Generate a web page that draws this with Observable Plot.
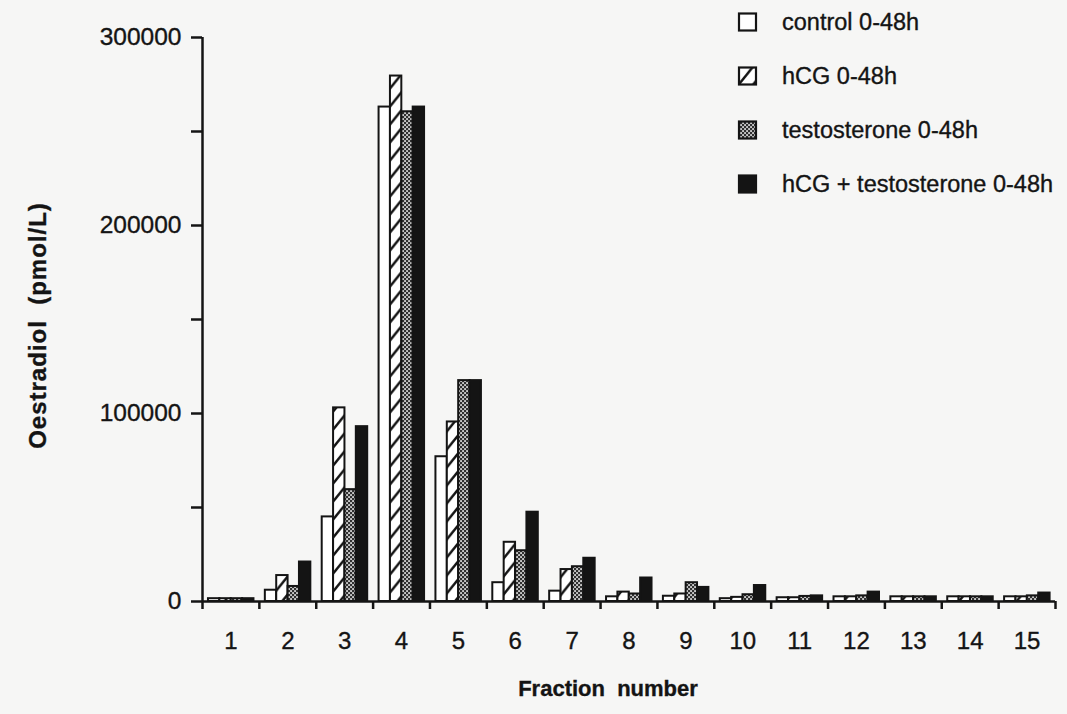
<!DOCTYPE html>
<html>
<head>
<meta charset="utf-8">
<script src="https://cdn.jsdelivr.net/npm/d3@7"></script>
<script src="https://cdn.jsdelivr.net/npm/@observablehq/plot@0.6"></script>
<style>
  html, body { margin: 0; padding: 0; background: #f6f6f5; }
  #chart { position: relative; width: 1067px; height: 714px; }
  #chart svg { display: block; }
  #chart svg text { stroke: #141414; stroke-width: 0.35px; }
</style>
</head>
<body>
<div id="chart"></div>
<script>
// Oestradiol (pmol/L) per HPLC fraction, four culture conditions (0-48h)
const fractions = [1, 2, 3, 4, 5, 6, 7, 8, 9, 10, 11, 12, 13, 14, 15];
const seriesNames = ["control 0-48h", "hCG 0-48h", "testosterone 0-48h", "hCG + testosterone 0-48h"];

const control         = [1500, 6000,  45000, 263000,  77000, 10000,  5500,  2500,  2800, 1500, 2000, 2500, 2500, 2500, 2500];
const hCG             = [1500, 13800, 103000, 279500, 95500, 31500, 17000,  5000,  4000, 2200, 2000, 2500, 2500, 2500, 2500];
const testosterone    = [1500, 8000,  59500, 260500, 117500, 27000, 18500,  4000, 10000, 3600, 2700, 3000, 2500, 2500, 3000];
const hCGTestosterone = [1500, 21000, 93000, 263000, 117500, 47500, 23000, 12500,  7500, 8500, 3000, 5000, 2500, 2500, 4500];

const majorTicks = [0, 100000, 200000, 300000];
const minorTicks = [50000, 150000, 250000];

// fills per series: open, hatched, stippled, solid
const fills = ["white", "url(#hatchFill)", "url(#stippleFill)", "#141414"];

const seriesValues = [control, hCG, testosterone, hCGTestosterone];
const rows = seriesNames.flatMap((name, k) =>
  fractions.map((f, i) => ({fraction: f, series: name, k, value: seriesValues[k][i]}))
);

// each fraction occupies one unit; four bars sit side by side within it
const groupInset = 0.105, barWidth = 0.2;
const boundaries = d3.range(0.5, fractions.length + 1, 1);

const ink = "#141414";
const font = "'Liberation Sans', Arial, Helvetica, sans-serif";

const chart = Plot.plot({
  width: 1067,
  height: 714,
  marginLeft: 202,
  marginRight: 12,
  marginTop: 37,
  marginBottom: 113,
  style: {background: "transparent", fontFamily: font, fontSize: "24px", color: ink},
  x: {type: "linear", domain: [0.5, 15.5], axis: null},
  y: {domain: [0, 300000], axis: null},
  color: {type: "ordinal", domain: seriesNames, range: fills},
  marks: [
    Plot.rect(rows, {
      x1: d => d.fraction - 0.5 + groupInset + d.k * barWidth,
      x2: d => d.fraction - 0.5 + groupInset + (d.k + 1) * barWidth,
      y1: 0,
      y2: "value",
      fill: "series",
      stroke: ink,
      strokeWidth: 2
    }),
    Plot.ruleX([0.5], {stroke: ink, strokeWidth: 2.5}),
    Plot.ruleY([0], {stroke: ink, strokeWidth: 2.5}),
    Plot.axisY({
      ticks: [...majorTicks, ...minorTicks],
      tickSize: 11,
      tickPadding: 10,
      tickFormat: d => majorTicks.includes(d) ? String(d) : "",
      stroke: ink,
      strokeWidth: 2.5,
      fontSize: 24.5,
      label: null
    }),
    Plot.axisX({
      ticks: boundaries,
      tickSize: 8,
      tickFormat: () => "",
      stroke: ink,
      strokeWidth: 2.5,
      label: null
    }),
    Plot.axisX({
      ticks: fractions,
      tickSize: 0,
      tickPadding: 30,
      tickFormat: d => String(d),
      fontSize: 24,
      label: null
    }),
    Plot.text(["Oestradiol\u00a0 (pmol/L)"], {
      frameAnchor: "left", textAnchor: "middle", rotate: -90, dx: -164, dy: 6,
      fontWeight: "bold", fontSize: 24, fill: ink,
      style: {letterSpacing: "1px"}
    }),
    Plot.text(["Fraction\u00a0 number"], {
      frameAnchor: "bottom", textAnchor: "middle", dx: -21, dy: 94,
      fontWeight: "bold", fontSize: 22, fill: ink
    })
  ]
});

// patterns used by the hatched and stippled bars
const svg = d3.select(chart);
const defs = svg.insert("defs", ":first-child");

const hatch = defs.append("pattern")
  .attr("id", "hatchFill")
  .attr("patternUnits", "userSpaceOnUse")
  .attr("width", 14.4)
  .attr("height", 18);
hatch.append("rect").attr("width", 14.4).attr("height", 18).attr("fill", "white");
[-18, 0, 18].forEach(dy =>
  hatch.append("line")
    .attr("x1", -3.6).attr("y1", 22.5 + dy)
    .attr("x2", 18).attr("y2", -4.5 + dy)
    .attr("stroke", ink).attr("stroke-width", 2.4)
);

const stipple = defs.append("pattern")
  .attr("id", "stippleFill")
  .attr("patternUnits", "userSpaceOnUse")
  .attr("width", 4)
  .attr("height", 4);
stipple.append("rect").attr("width", 4).attr("height", 4).attr("fill", "#303030");
stipple.append("rect").attr("x", 0.2).attr("y", 0.2).attr("width", 1.7).attr("height", 1.7).attr("fill", "#eeeeee");
stipple.append("rect").attr("x", 2.2).attr("y", 2.2).attr("width", 1.7).attr("height", 1.7).attr("fill", "#eeeeee");

// y-axis title gets a little extra tracking
svg.selectAll("text").filter(function() { return this.textContent.startsWith("Oestradiol"); })
  .style("letter-spacing", "1px");

// legend, top right
const legend = svg.append("g")
  .attr("font-family", font)
  .attr("font-size", 23.5)
  .attr("text-anchor", "start")
  .attr("fill", ink);
seriesNames.forEach((name, i) => {
  const cy = 22 + i * 54;
  legend.append("rect")
    .attr("x", 739).attr("y", cy - 8.5)
    .attr("width", 17).attr("height", 17)
    .attr("fill", fills[i])
    .attr("stroke", ink).attr("stroke-width", 2.2);
  legend.append("text")
    .attr("x", 782).attr("y", cy)
    .attr("dy", "0.35em")
    .text(name);
});

document.getElementById("chart").appendChild(chart);
</script>
</body>
</html>
